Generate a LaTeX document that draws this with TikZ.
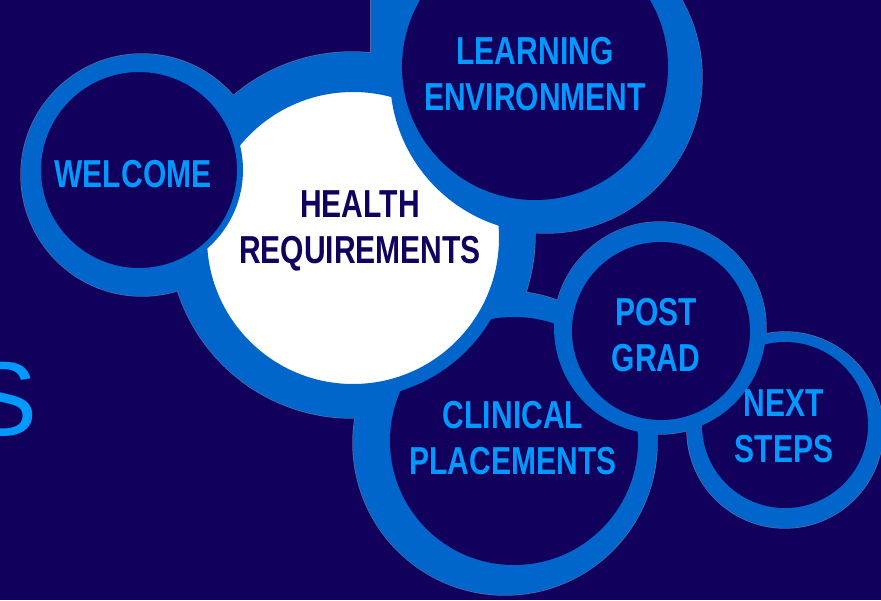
\documentclass[tikz,border=0pt]{standalone}
\usepackage{fontspec}
\setmainfont{Liberation Sans}
\newfontfamily\ringfont[FakeStretch=0.77]{Liberation Sans}
\usetikzlibrary{positioning}
\definecolor{navy}{HTML}{11005C}
\definecolor{ringblue}{HTML}{0066CC}
\definecolor{skyblue}{HTML}{0099FF}
\definecolor{edgegray}{HTML}{5A6AA0}
\tikzset{blob/.style={circle,fill=ringblue,inner sep=0pt,outer sep=0pt,minimum size=#1},
blobedge/.style={circle,draw=edgegray,line width=1.4pt,inner sep=0pt,minimum size=#1},
hole/.style={circle,fill=navy,inner sep=0pt,outer sep=0pt,minimum size=#1},
ringtext/.style={font=\ringfont\bfseries\fontsize{39}{46}\selectfont,text=skyblue,align=center,inner sep=0pt}}

\begin{document}
\begin{tikzpicture}[x=1pt,y=-1pt]
    \fill[navy] (0,0) rectangle (881,600);
    \useasboundingbox (0,0) rectangle (881,600);
    \clip (0,0) rectangle (881,600);

    % blue blob: edge first, then fill
    \foreach \cx/\cy/\r in {142/175/121,352/235/183,546/77/156,505/443/152,660/328/106,785/430/98}
        \node[blobedge=2*\r pt] at (\cx,\cy) {};
    \draw[edgegray,line width=1.4pt] (371,-2) rectangle (425,58);
    \foreach \cx/\cy/\r in {142/175/121,352/235/183,546/77/156,505/443/152,660/328/106,785/430/98}
        \node[blob=2*\r pt] at (\cx,\cy) {};
    \fill[ringblue] (371,-2) rectangle (425,58);

    \node[hole=248pt] (clinical ring) at (514,441) {};
    \node[hole=166pt] (next ring) at (785,425) {};
    \node[blob=212pt] at (660,328) {};
    \node[hole=178pt] (post ring) at (661,331) {};
    \node[circle,fill=white,draw=ringblue,line width=14pt,inner sep=0pt,minimum size=306pt] (health ring) at (353,238) {};
    \node[hole=202pt,draw=ringblue,line width=6pt] (welcome ring) at (139,170) {};
    \node[blob=312pt] at (546,77) {};
    \node[hole=266pt] (learning ring) at (535,67) {};

    \node[ringtext] (welcome) at (133,174) {WELCOME};
    \node[ringtext,text=navy] (health) at (360,231) {HEALTH\\REQUIREMENTS};
    \node[ringtext] (learning) at (535,74) {LEARNING\\ENVIRONMENT};
    \node[ringtext] (clinical) at (513,438) {CLINICAL\\PLACEMENTS};
    \node[ringtext] (postgrad) at (656,335) {POST\\GRAD};
    \node[ringtext] (nextsteps) at (784,426) {NEXT\\STEPS};

    \node[font=\fontsize{105}{105}\selectfont,text=skyblue,inner sep=0pt,anchor=base east] (title) at (38,435) {S};
\end{tikzpicture}
\end{document}
